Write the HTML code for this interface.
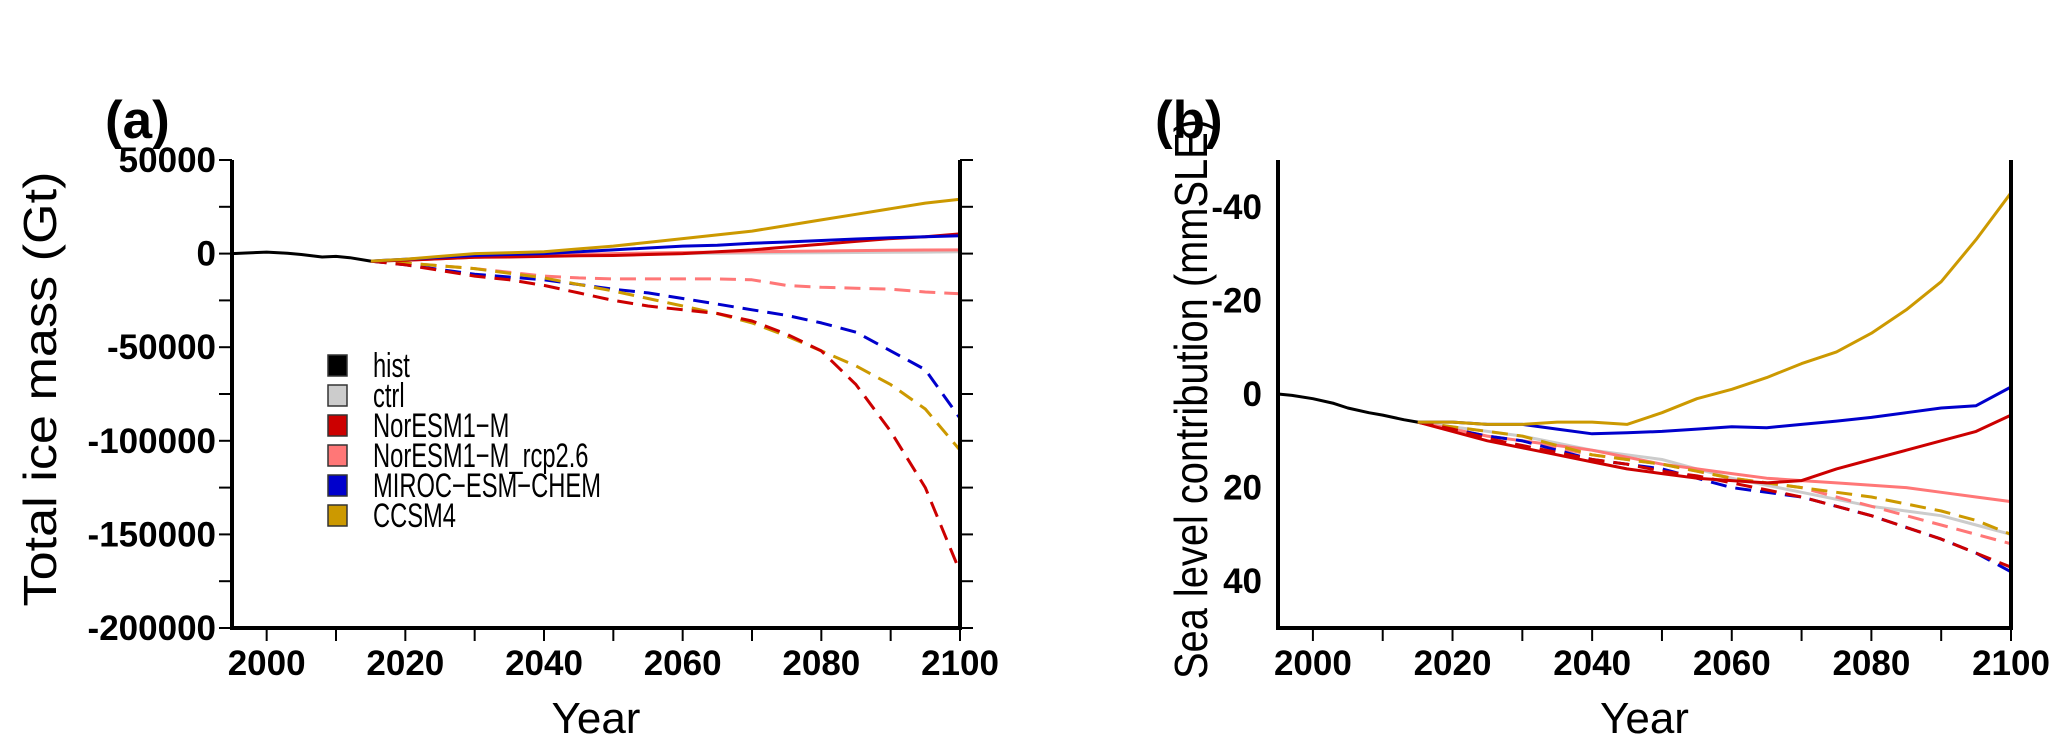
<!DOCTYPE html>
<html><head><meta charset="utf-8"><style>
html,body{margin:0;padding:0;background:#fff;}
svg{display:block;font-family:"Liberation Sans",sans-serif;}
</style></head><body>
<svg id="fig" width="2067" height="750" viewBox="0 0 2067 750" xmlns="http://www.w3.org/2000/svg"></svg>
<script>
// ---------- data ----------
const histYearsA = [1995,1997,2000,2003,2005,2008,2010,2012,2015];
const histValsA  = [0,300,800,200,-500,-1800,-1500,-2200,-4000];
const histYearsB = [1995,1997,2000,2003,2005,2008,2010,2013,2015];
const histValsB  = [0,0.3,1,2,3,4,4.5,5.5,6];

const futYears = [2015,2020,2025,2030,2035,2040,2045,2050,2055,2060,2065,2070,2075,2080,2085,2090,2095,2100];
// panel a (Gt)
const aCtrl     = [-4000,-3500,-2800,-2000,-1500,-1000,-700,-500,-300,0,100,300,400,500,600,700,800,1000];
const aNorSolid = [-4000,-3600,-2800,-2000,-1800,-1500,-1200,-1000,-500,0,1000,2000,3500,5000,6500,8000,9000,10500];
const aNorDash  = [-4000,-6000,-9000,-12000,-14000,-17000,-21000,-25000,-28000,-30000,-32000,-36000,-43000,-52000,-70000,-95000,-125000,-170000];
const aRcpSolid = [-4000,-3500,-2800,-2000,-1500,-1000,-500,0,300,600,800,1000,1200,1400,1600,1800,1900,2000];
const aRcpDash  = [-4000,-5000,-6500,-8000,-10000,-12000,-13000,-13500,-13500,-13500,-13500,-14000,-17000,-18000,-18500,-19000,-20500,-21500];
const aMirSolid = [-4000,-3000,-2000,-1000,-500,0,1000,2000,3000,4000,4500,5500,6200,7000,7800,8500,9000,9500];
const aMirDash  = [-4000,-6000,-8500,-11000,-12500,-14000,-16500,-19000,-21000,-24000,-27000,-30000,-33000,-37000,-42000,-52000,-62000,-88000];
const aCcsSolid = [-4000,-3000,-1500,0,500,1000,2500,4000,6000,8000,10000,12000,15000,18000,21000,24000,27000,29000];
const aCcsDash  = [-4000,-5000,-6500,-8000,-10500,-13000,-16500,-20000,-24000,-28000,-32000,-37000,-44000,-52000,-60000,-70000,-83000,-105000];
// panel b (mmSLE, positive = loss)
const bCtrl     = [6,7,8,9,10.5,12,13,14,16,18,19.5,21,22.5,24,25,26,28,30];
const bNorSolid = [6,8,10,11.5,13,14.5,16,17,18,18.5,19,18.5,16,14,12,10,8,4.5];
const bNorDash  = [6,7.5,9.5,11,12.5,14,15,16.5,17.5,19,20.5,22,24,26,28.5,31,34,37];
const bRcpSolid = [6,7.5,9,10,11,12,13.5,15,16,17,18,18.5,19,19.5,20,21,22,23];
const bRcpDash  = [6,7.5,9,10,11.5,13,14,15,16.5,18,19,20,22,24,26,28,30,32];
const bMirSolid = [6,6,6.5,6.5,7.5,8.5,8.3,8,7.5,7,7.2,6.5,5.8,5,4,3,2.5,-1.5];
const bMirDash  = [6,7.5,9,10,12,14,15,16,18,20,21,22,24,26,28.5,31,34,38];
const bCcsSolid = [6,6,6.5,6.5,6,6,6.5,4,1,-1,-3.5,-6.5,-9,-13,-18,-24,-33,-43];
const bCcsDash  = [6,7,8,9,11,13,14,15,16.5,18,19,20,21,22,23.5,25,27,30];

const legendLabels = ["hist","ctrl","NorESM1\u2212M","NorESM1\u2212M_rcp2.6","MIROC\u2212ESM\u2212CHEM","CCSM4"];
const legendColors = ["#000000","#cccccc","#cc0000","#ff7777","#0000cc","#cc9900"];
const xTicks = [2000,2020,2040,2060,2080,2100];
const aYTicks = [50000,0,-50000,-100000,-150000,-200000];
const aYTickLabels = ["50000","0","-50000","-100000","-150000","-200000"];
const bYTicks = [-40,-20,0,20,40];
const bYTickLabels = ["-40","-20","0","20","40"];

// ---------- drawing ----------
const NS="http://www.w3.org/2000/svg";
const svg=document.getElementById('fig');
function mk(tag,attrs,parent){const e=document.createElementNS(NS,tag);for(const k in attrs)e.setAttribute(k,attrs[k]);(parent||svg).appendChild(e);return e;}

const TOP=160,BOT=628;
function panel(cfg){
  const g=mk('g',{});
  
  
  const sx=v=>cfg.x0+(v-1995)/(2100-1995)*(cfg.x1-cfg.x0);
  const sy=v=>TOP+(v-cfg.ymax)/(cfg.ymin-cfg.ymax)*(BOT-TOP);
  function line(xs,ys,color,dash,nm){
    const p=mk('polyline',{points:xs.map((x,i)=>sx(x).toFixed(1)+','+sy(ys[i]).toFixed(1)).join(' '),fill:'none',stroke:color,'stroke-width':3,'stroke-linejoin':'round'},g);
    if(dash)p.setAttribute('stroke-dasharray','16 9');
    
    
  }
  const S=cfg.series;
  line(futYears,S.ctrl,'#cccccc',false,'ctrl-line');
  line(futYears,S.rcpSolid,'#ff7777',false,'noresm-rcp26-solid-line');
  line(futYears,S.rcpDash,'#ff7777',true,'noresm-rcp26-dashed-line');
  line(futYears,S.mirDash,'#0000cc',true,'miroc-dashed-line');
  line(futYears,S.ccsDash,'#cc9900',true,'ccsm4-dashed-line');
  line(futYears,S.norDash,'#cc0000',true,'noresm-dashed-line');
  line(futYears,S.norSolid,'#cc0000',false,'noresm-solid-line');
  line(futYears,S.mirSolid,'#0000cc',false,'miroc-solid-line');
  line(futYears,S.ccsSolid,'#cc9900',false,'ccsm4-solid-line');
  line(cfg.hx,cfg.hy,'#000000',false,'hist-line');
  const ax=mk('g',{stroke:'#000'},g);
  
  
  mk('line',{x1:cfg.x0,y1:TOP,x2:cfg.x0,y2:BOT+2,'stroke-width':4},ax);
  mk('line',{x1:cfg.x1,y1:TOP,x2:cfg.x1,y2:BOT+2,'stroke-width':4},ax);
  mk('line',{x1:cfg.x0-2,y1:BOT,x2:cfg.x1+2,y2:BOT,'stroke-width':4},ax);
  for(let v=cfg.ymax;v>=cfg.ymin-1e-9;v-=cfg.minor){
    const y=sy(v);
    mk('line',{x1:cfg.x0-13,y1:y,x2:cfg.x0,y2:y,'stroke-width':2},ax);
    mk('line',{x1:cfg.x1,y1:y,x2:cfg.x1+13,y2:y,'stroke-width':2},ax);
  }
  for(let yr=2000;yr<=2100;yr+=10){
    const x=sx(yr);
    mk('line',{x1:x,y1:BOT,x2:x,y2:BOT+13,'stroke-width':2},ax);
  }
  xTicks.forEach(yr=>{
    const t=mk('text',{x:sx(yr),y:675,'text-anchor':'middle','font-size':35,'font-weight':'bold'},g);
    t.textContent=yr;
    
    
  });
  cfg.yt.forEach((v,i)=>{
    const t=mk('text',{x:cfg.x0-16,y:sy(v)+12,'text-anchor':'end','font-size':35,'font-weight':'bold'},g);
    t.textContent=cfg.ytl[i];
    
    
  });
  const xt=mk('text',{x:(cfg.x0+cfg.x1)/2,y:733,'text-anchor':'middle','font-size':44},g);
  xt.textContent='Year';
  
  
  const yt=mk('text',{x:0,y:0,'text-anchor':'middle','font-size':46,textLength:cfg.ytlen,lengthAdjust:'spacingAndGlyphs',transform:`translate(${cfg.ytx},${cfg.yty}) rotate(-90)`},g);
  yt.textContent=cfg.ytitle;
  
  
  const pl=mk('text',{x:cfg.plx,y:138,'font-size':53,'font-weight':'bold'},g);
  pl.textContent=cfg.label;
  
  
}

panel({name:'panel-a',x0:232,x1:960,ymax:50000,ymin:-200000,minor:25000,hx:histYearsA,hy:histValsA,
  yt:aYTicks,ytl:aYTickLabels,ytitle:'Total ice mass (Gt)',ytlen:435,ytx:56,yty:389,label:'(a)',plx:105,
  series:{ctrl:aCtrl,norSolid:aNorSolid,norDash:aNorDash,rcpSolid:aRcpSolid,rcpDash:aRcpDash,mirSolid:aMirSolid,mirDash:aMirDash,ccsSolid:aCcsSolid,ccsDash:aCcsDash}});
panel({name:'panel-b',x0:1278,x1:2011,ymax:-50,ymin:50,minor:10,hx:histYearsB,hy:histValsB,
  yt:bYTicks,ytl:bYTickLabels,ytitle:'Sea level contribution (mmSLE)',ytlen:560,ytx:1207,yty:399,label:'(b)',plx:1155,
  series:{ctrl:bCtrl,norSolid:bNorSolid,norDash:bNorDash,rcpSolid:bRcpSolid,rcpDash:bRcpDash,mirSolid:bMirSolid,mirDash:bMirDash,ccsSolid:bCcsSolid,ccsDash:bCcsDash}});

// legend
const lg=mk('g',{});


legendLabels.forEach((lab,i)=>{
  const y=365+i*30;
  const r=mk('rect',{x:328,y:y-10,width:19,height:21,fill:legendColors[i],stroke:'#333','stroke-width':1.5},lg);
  
  
  const t=mk('text',{x:373,y:y+12,'font-size':34},lg);
  t.textContent=lab;
  
  
});
const legTexts=lg.querySelectorAll('text');
const mw=legTexts[4].getComputedTextLength();
if(mw>0){const k=228/mw;legTexts.forEach(t=>{const w=t.getComputedTextLength();t.setAttribute('textLength',(w*k).toFixed(1));t.setAttribute('lengthAdjust','spacingAndGlyphs');});}
</script>
</body></html>
